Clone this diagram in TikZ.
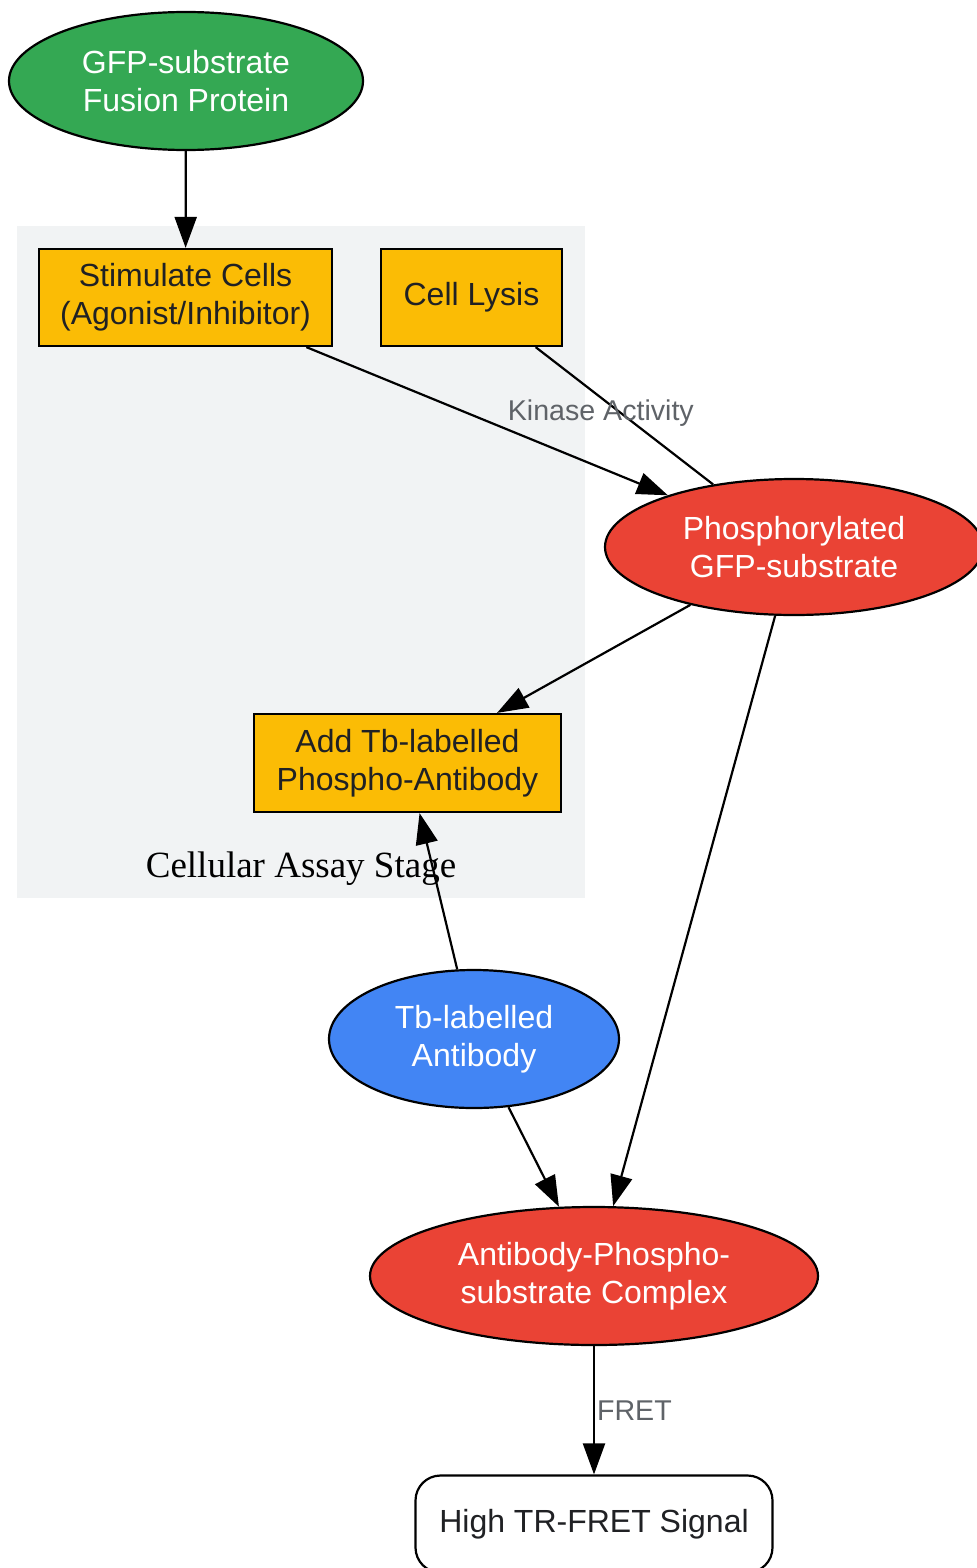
\documentclass[tikz,border=0pt]{standalone}
\usepackage{fontspec}
\setmainfont{Liberation Sans}
\newfontfamily\clusterfont{Liberation Serif}
\usetikzlibrary{
	shapes.geometric,
	arrows.meta
}
\definecolor{gfpgreen}{HTML}{34A853}
\definecolor{phosred}{HTML}{EA4335}
\definecolor{tbblue}{HTML}{4285F4}
\definecolor{stepyellow}{HTML}{FBBC05}
\definecolor{clustergray}{HTML}{F1F3F4}
\definecolor{labelgray}{HTML}{5F6368}
\definecolor{textdark}{HTML}{202124}
\tikzset{
	x=0.5pt, y=-0.5pt,
	every node/.style={
		font=\fontsize{16}{19}\selectfont, align=center
	},
	every edge/.append style={
		line width=1.1pt, -{Triangle[length=15.5pt,width=11pt]}
	},
	molecule/.style={
		ellipse, draw, line width=1.1pt, text=white, inner sep=0pt
	},
	stepbox/.style={
		rectangle, draw, line width=1.1pt, fill=stepyellow, text=textdark,
		minimum height=48.5pt
	},
	readout/.style={
		rectangle, rounded corners=12.5pt, draw, line width=1.1pt, fill=white,
		text=textdark, minimum width=178.5pt, minimum height=48.5pt
	},
	edgelabel/.style={
		font=\fontsize{14.3}{16}\selectfont, text=labelgray
	}
}

\begin{document}
\begin{tikzpicture}
		\useasboundingbox (0,0) rectangle (976,1568);
		\fill[clustergray] (17,226) rectangle (585,898);
		\node[font=\clusterfont\fontsize{18.5}{22}\selectfont] (stage) at (301,869) {Cellular Assay Stage};

		\draw
			(186,81)    node[molecule,fill=gfpgreen,minimum width=177pt,minimum height=69pt] (gfp)  {GFP-substrate\\Fusion Protein}
			(185.5,297.5) node[stepbox,minimum width=146.5pt]                                  (stim) {Stimulate Cells\\(Agonist/Inhibitor)}
			(471.5,297.5) node[stepbox,minimum width=90.5pt]                                   (lysis) {Cell Lysis}
			(794,547)   node[molecule,fill=phosred,minimum width=189pt,minimum height=68pt]  (phos) {Phosphorylated\\GFP-substrate}
			(407.5,763) node[stepbox,minimum width=153.5pt,minimum height=49pt]              (add)  {Add Tb-labelled\\Phospho-Antibody}
			(474,1039)  node[molecule,fill=tbblue,minimum width=145pt,minimum height=69pt]   (tb)   {Tb-labelled\\Antibody}
			(594,1276)  node[molecule,fill=phosred,minimum width=224pt,minimum height=69pt]  (cplx) {Antibody-Phospho-\\substrate Complex}
			(594,1524)  node[readout]                                                         (signal) {High TR-FRET Signal}

			(gfp)   edge                  (stim)
			(stim)  edge                  (phos)
			(lysis) edge[-]               node[edgelabel,pos=0.48,xshift=-10pt] {Kinase Activity} (phos)
			(phos)  edge                  (add)
			(tb)    edge                  (add)
			(phos)  edge                  (cplx)
			(tb)    edge                  (cplx)
			(cplx)  edge                  node[edgelabel,right,inner sep=1pt] {FRET} (signal)
		;
	\end{tikzpicture}
\end{document}
